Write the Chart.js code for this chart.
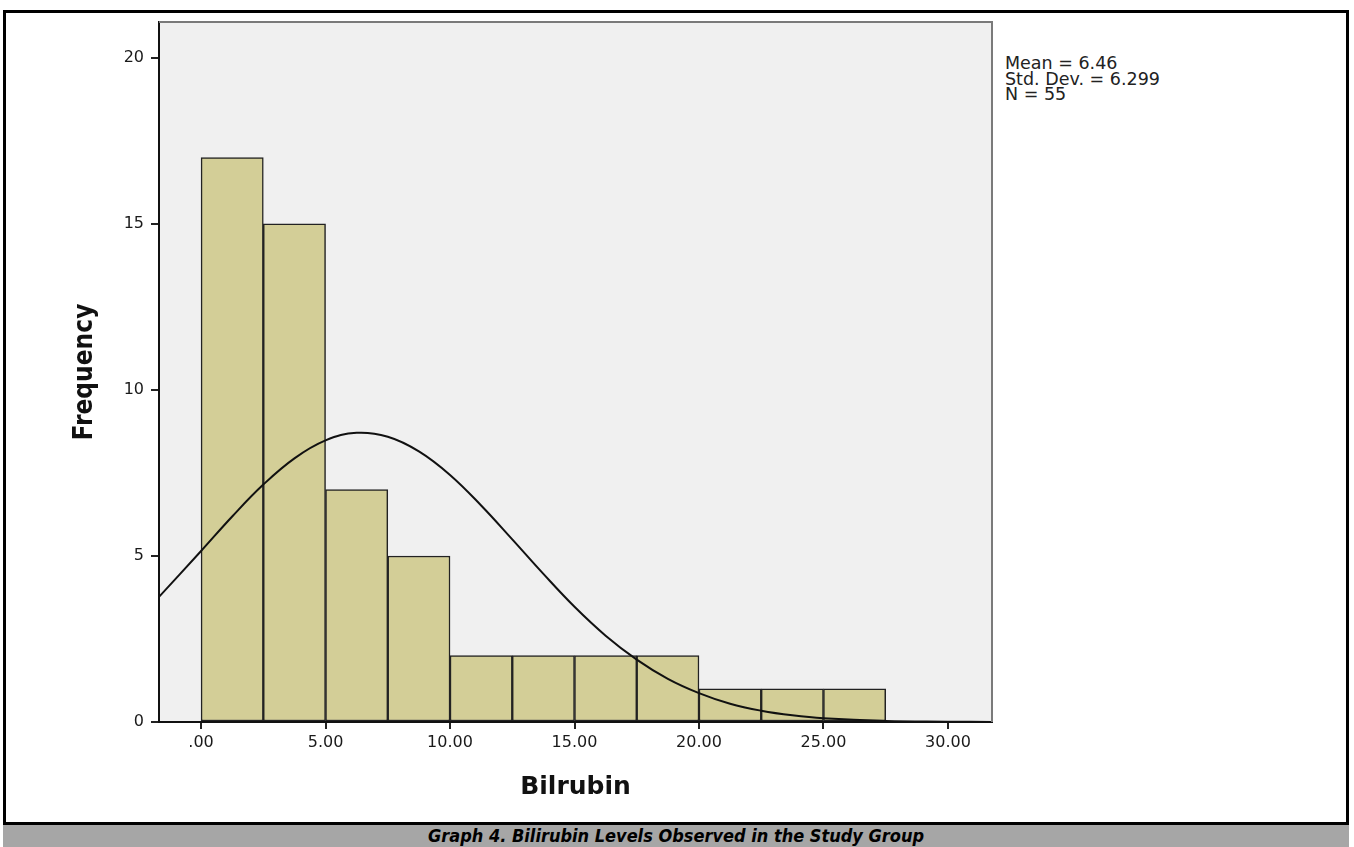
<!DOCTYPE html>
<html>
<head>
<meta charset="utf-8">
<script src="https://cdn.jsdelivr.net/npm/chart.js@4/dist/chart.umd.min.js"></script>
<style>
body{margin:0;background:#fff;overflow:hidden}
#frame{position:absolute;left:3px;top:10px;width:1340px;height:900px;border:3px solid #000;background:#fff}
#caption{position:absolute;left:3px;top:822px;width:1346px;height:40px;background:#a6a6a6;border-top:3px solid #000;
font-family:"DejaVu Sans Condensed","DejaVu Sans",sans-serif;font-weight:bold;font-style:italic;font-size:18px;text-align:center;line-height:22px;color:#000}
#stats{position:absolute;left:1005px;top:56px;font-family:"DejaVu Sans",sans-serif;font-size:17.5px;line-height:15.5px;color:#222}
canvas{position:absolute;left:0;top:0}
</style>
</head>
<body>
<div id="frame"></div>
<div id="caption">Graph 4. Bilirubin Levels Observed in the Study Group</div>
<div id="stats">Mean = 6.46<br>Std. Dev. = 6.299<br>N = 55</div>
<canvas id="histChart" width="1354" height="822"></canvas>
<script>
// histogram bins (width 2.5), centers and counts
let binCenters = [1.25,3.75,6.25,8.75,11.25,13.75,16.25,18.75,21.25,23.75,26.25]
let counts = [17,15,7,5,2,2,2,2,1,1,1]
// normal curve
let curveX = [-1.7,0,1.25,2.5,3.75,5,6.25,7.5,8.75,10,11.25,12.5,13.75,15,16.25,17.5,18.75,20,21.25,22.5,23.75,25,27.5,30,31.8]
let curveY = [3.76,5.15,6.19,7.15,7.94,8.48,8.71,8.59,8.15,7.44,6.52,5.5,4.46,3.47,2.6,1.88,1.3,0.87,0.55,0.34,0.2,0.11,0.03,0.01,0]
let xTicks = [0,5,10,15,20,25,30]

let plotBg = {
id:"plotBg",
beforeDraw(chart){
let a = chart.chartArea, ctx = chart.ctx
ctx.save()
ctx.fillStyle = "#f0f0f0"
ctx.fillRect(a.left,a.top,a.right-a.left,a.bottom-a.top)
ctx.restore()
},
afterDraw(chart){
let a = chart.chartArea, ctx = chart.ctx
ctx.save()
ctx.strokeStyle = "#7a7a7a"
ctx.lineWidth = 2
ctx.beginPath()
ctx.moveTo(a.left,a.top)
ctx.lineTo(a.right,a.top)
ctx.lineTo(a.right,a.bottom)
ctx.stroke()
ctx.restore()
}
}

let tickFont = {family:"DejaVu Sans",size:16}
let titleFont = {family:"DejaVu Sans",size:25,weight:"bold"}

new Chart(document.getElementById("histChart"),{
type:"bar",
data:{
datasets:[{
type:"line",
data:curveX.map((x,i)=>({x:x,y:curveY[i]})),
borderColor:"#111",
borderWidth:2,
pointRadius:0,
tension:0.4,
order:0
},{
type:"bar",
data:binCenters.map((x,i)=>({x:x,y:counts[i]})),
backgroundColor:"#d3ce97",
borderColor:"#222",
borderWidth:1.5,
borderSkipped:false,
barPercentage:1,
categoryPercentage:1,
order:1
}]
},
options:{
responsive:false,
animation:false,
layout:{padding:{left:70,top:22,right:362,bottom:20}},
plugins:{legend:{display:false},tooltip:{enabled:false}},
scales:{
x:{
type:"linear",
min:-1.69,
max:31.77,
offset:false,
afterFit(s){ s.height = 80 },
afterBuildTicks(s){ s.ticks = xTicks.map(v=>({value:v})) },
grid:{drawOnChartArea:false,drawTicks:true,tickLength:7,color:"#222",lineWidth:2,offset:false},
border:{display:true,color:"#111",width:2},
ticks:{font:tickFont,color:"#1a1a1a",padding:4,maxRotation:0,
callback:v=> v===0 ? ".00" : v.toFixed(2)},
title:{display:true,text:"Bilrubin",font:titleFont,color:"#111",padding:0}
},
y:{
min:0,
max:21.08,
afterFit(s){ s.width = 89 },
grid:{drawOnChartArea:false,drawTicks:true,tickLength:8,color:"#222",lineWidth:2},
border:{display:true,color:"#111",width:2},
ticks:{stepSize:5,includeBounds:false,font:tickFont,color:"#1a1a1a",padding:7},
title:{display:true,text:"Frequency",font:{family:"DejaVu Sans Condensed",size:26,weight:"bold"},color:"#111",padding:0}
}
}
},
plugins:[plotBg]
})
</script>
</body>
</html>
